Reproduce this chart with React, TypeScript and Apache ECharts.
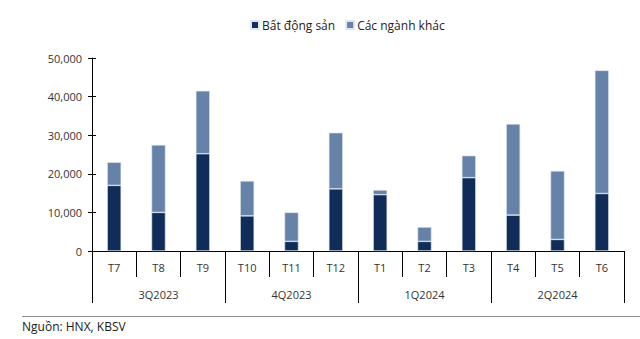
import React, { useEffect, useRef } from "react";
import * as echarts from "echarts";

const months = ["T7", "T8", "T9", "T10", "T11", "T12", "T1", "T2", "T3", "T4", "T5", "T6"];
const quarters = ["3Q2023", "4Q2023", "1Q2024", "2Q2024"];
const realEstate = [17000, 10000, 25200, 9100, 2500, 16100, 14600, 2500, 19000, 9300, 3000, 14900];
const others = [6000, 17500, 16300, 9050, 7500, 14550, 1200, 3700, 5700, 23600, 17750, 31900];
const seriesNames = ["Bất động sản", "Các ngành khác"];
const sourceText = "Nguồn: HNX, KBSV";

const FONT = "'Open Sans', 'Noto Sans', sans-serif";

export default function App() {
  const ref = useRef<HTMLDivElement>(null);
  useEffect(() => {
    if (!ref.current) return;
    const chart = echarts.init(ref.current, null, { renderer: "svg" });
    chart.setOption({
      animation: false,
      backgroundColor: "#ffffff",
      textStyle: { fontFamily: FONT },
      legend: {
        top: 14,
        left: 245,
        itemWidth: 8,
        itemHeight: 8,
        itemGap: 10,
        icon: "rect",
        textStyle: { fontSize: 12, color: "#222", fontFamily: FONT, padding: [0, 0, 0, -2] },
        data: seriesNames,
      },
      grid: { left: 92, right: 16, top: 58, bottom: 88, containLabel: false },
      xAxis: [
        {
          type: "category",
          data: months,
          axisLine: { show: true, lineStyle: { color: "#000", width: 1 } },
          axisTick: { show: true, length: 26, lineStyle: { color: "#000", width: 1 } },
          axisLabel: { margin: 11, fontSize: 11, color: "#333", fontFamily: FONT },
        },
        {
          type: "category",
          data: quarters,
          position: "bottom",
          axisLine: { show: false },
          axisTick: { show: true, length: 52, lineStyle: { color: "#000", width: 1 } },
          axisLabel: { margin: 38, fontSize: 11, color: "#333", fontFamily: FONT },
        },
      ],
      yAxis: [
        {
          type: "value",
          min: 0,
          max: 50000,
          interval: 10000,
          splitLine: { show: false },
          axisLine: { show: true, lineStyle: { color: "#000", width: 1 } },
          axisTick: { show: true, length: 4, lineStyle: { color: "#000" } },
          axisLabel: {
            margin: 10,
            fontSize: 11,
            color: "#333",
            fontFamily: FONT,
            formatter: (v: number) => v.toLocaleString("en-US"),
          },
        },
        {
          type: "value",
          position: "left",
          min: 0,
          max: 50000,
          interval: 10000,
          splitLine: { show: false },
          axisLine: { show: false },
          axisTick: { show: true, inside: true, length: 4, lineStyle: { color: "#000" } },
          axisLabel: { show: false },
        },
      ],
      series: [
        {
          name: seriesNames[0],
          type: "bar",
          stack: "total",
          data: realEstate,
          barWidth: 14,
          itemStyle: { color: "#0f2d58", borderColor: "#dfe6ef", borderWidth: 0.6 },
        },
        {
          name: seriesNames[1],
          type: "bar",
          stack: "total",
          data: others,
          barWidth: 14,
          itemStyle: { color: "#6682a8", borderColor: "#dfe6ef", borderWidth: 0.6 },
        },
      ],
      graphic: [
        {
          type: "line",
          shape: { x1: 22, y1: 316.5, x2: 640, y2: 316.5 },
          style: { stroke: "#8c8c8c", lineWidth: 1 },
        },
        {
          type: "text",
          left: 22,
          top: 320,
          style: { text: sourceText, fontSize: 12, fill: "#1a1a1a", fontFamily: FONT },
        },
      ],
    });
    return () => chart.dispose();
  }, []);
  return <div ref={ref} style={{ width: 640, height: 339, position: "absolute", left: 0, top: 0 }} />;
}
